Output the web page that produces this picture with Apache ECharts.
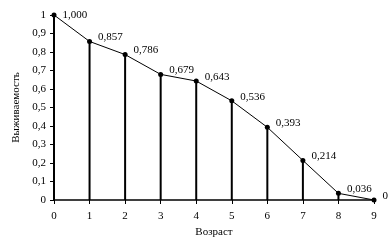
<!DOCTYPE html>
<html><head><meta charset="utf-8">
<script src="https://cdn.jsdelivr.net/npm/echarts@6/dist/echarts.min.js"></script>
<style>html,body{margin:0;padding:0;background:#fff}#c{width:392px;height:244px}</style>
</head><body><div id="c"></div>
<script>
var ages = [0, 1, 2, 3, 4, 5, 6, 7, 8, 9];
var survival = [1.000, 0.857, 0.786, 0.679, 0.643, 0.536, 0.393, 0.214, 0.036, 0];
var xName = 'Возраст';
var yName = 'Выживаемость';

var pts = ages.map(function (a, i) { return [a, survival[i]]; });
var linePts = pts.map(function (p, i) {
  return i === 0 ? { value: p, label: { offset: [0, 0] } } : { value: p };
});
var font = 'Liberation Serif';
var chart = echarts.init(document.getElementById('c'));
chart.setOption({
  animation: false,
  grid: { left: 54, right: 18, top: 15, bottom: 44 },
  xAxis: {
    type: 'value', min: 0, max: 9, interval: 1,
    name: xName, nameLocation: 'middle', nameGap: 25,
    nameTextStyle: { fontFamily: font, fontSize: 11, color: '#000' },
    axisLine: { show: true, lineStyle: { color: '#000', width: 1.5 } },
    axisTick: { show: true, length: 4, lineStyle: { color: '#000', width: 1 } },
    axisLabel: { fontFamily: font, fontSize: 11, color: '#000', margin: 11 },
    splitLine: { show: false }
  },
  yAxis: {
    type: 'value', min: 0, max: 1, interval: 0.1,
    name: yName, nameLocation: 'middle', nameGap: 32, nameRotate: 90,
    nameTextStyle: { fontFamily: font, fontSize: 11, color: '#000' },
    axisLine: { show: true, lineStyle: { color: '#000', width: 1.5 } },
    axisTick: { show: true, length: 4, lineStyle: { color: '#000', width: 1 } },
    axisLabel: { fontFamily: font, fontSize: 11, color: '#000', margin: 8,
      formatter: function (v) { return String(Math.round(v * 10) / 10).replace('.', ','); } },
    splitLine: { show: false }
  },
  series: [
    {
      type: 'bar', data: pts, barWidth: 2, silent: true,
      itemStyle: { color: '#000' }, z: 1
    },
    {
      type: 'line', data: linePts, symbol: 'circle', symbolSize: 5,
      lineStyle: { color: '#000', width: 1 }, itemStyle: { color: '#000' }, z: 3,
      label: {
        show: true, position: 'right', distance: 6, offset: [0, -4],
        fontFamily: font, fontSize: 11, color: '#000',
        formatter: function (p) { var v = p.value[1]; return v === 0 ? '0' : v.toFixed(3).replace('.', ','); }
      }
    }
  ]
});
</script></body></html>
